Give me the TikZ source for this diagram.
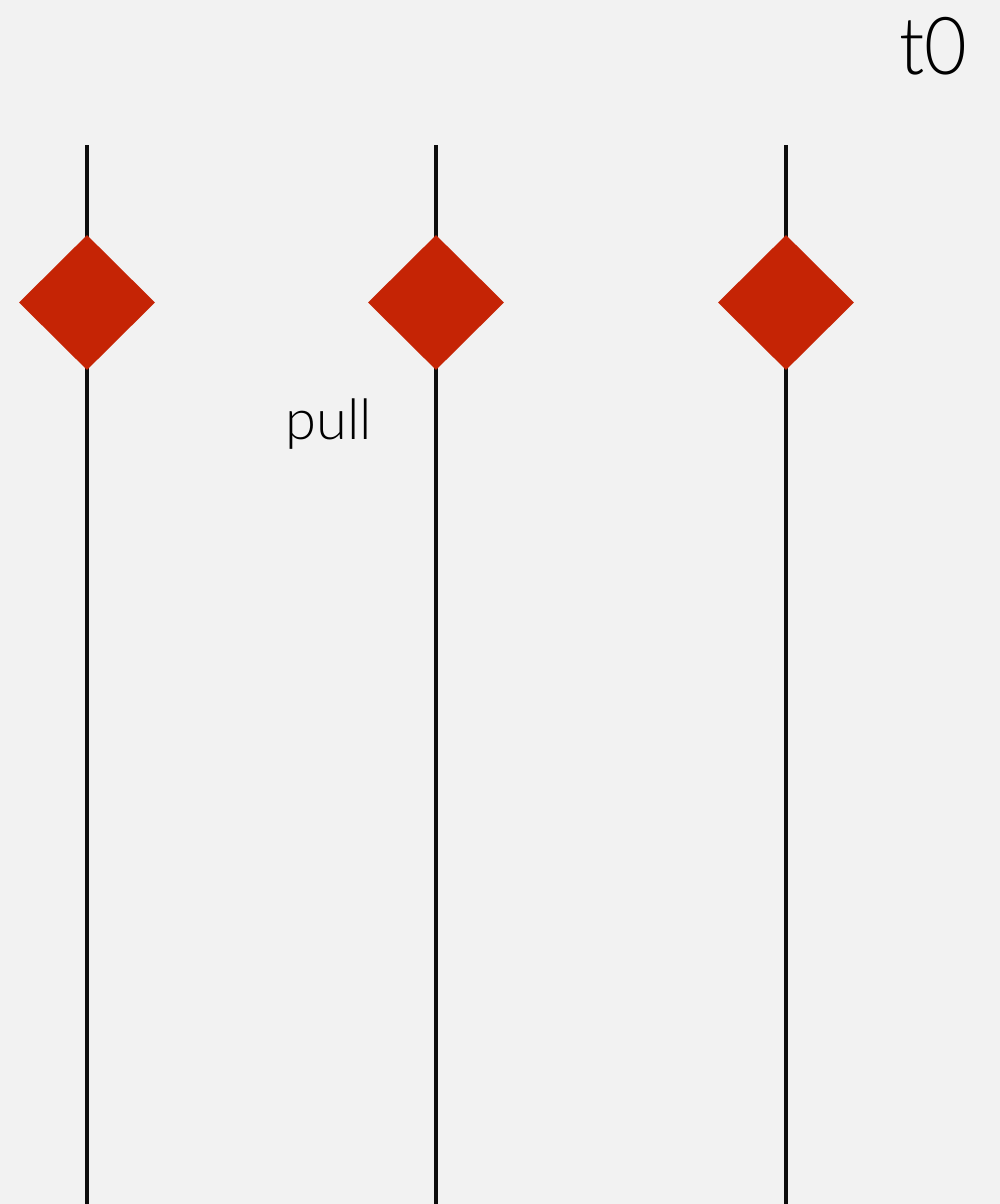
\documentclass[tikz,border=0pt]{standalone}
\usepackage{fontspec}
\setmainfont{Lato Light}
\usetikzlibrary{shapes.geometric}
\definecolor{bg}{HTML}{F2F2F2}
\definecolor{marker}{HTML}{C52405}
\begin{document}
\begin{tikzpicture}[x=1pt,y=-1pt,
  lifeline/.style={line width=4.5pt,black!95},
  event/.style={diamond,fill=marker,draw=none,minimum width=136pt,minimum height=135pt,inner sep=0pt},
  label/.style={inner sep=0pt,anchor=base,text=black}]
\fill[bg] (0,0) rectangle (1000,1204);
\useasboundingbox (0,0) rectangle (1000,1204);
\foreach \n/\x in {a/87,b/436,c/786}{
  \coordinate (\n top) at (\x,145);
  \coordinate (\n bot) at (\x,1206);
  \draw[lifeline] (\n top) -- (\n bot);
  \node[event] (\n d) at (\x,302.5) {};
}
\node[label,font=\fontsize{56}{60}\selectfont] (pull) at (329,439) {pull};
\node[label,font=\fontsize{80}{84}\selectfont,xscale=0.92] (t0) at (933,75) {t0};
\end{tikzpicture}
\end{document}
